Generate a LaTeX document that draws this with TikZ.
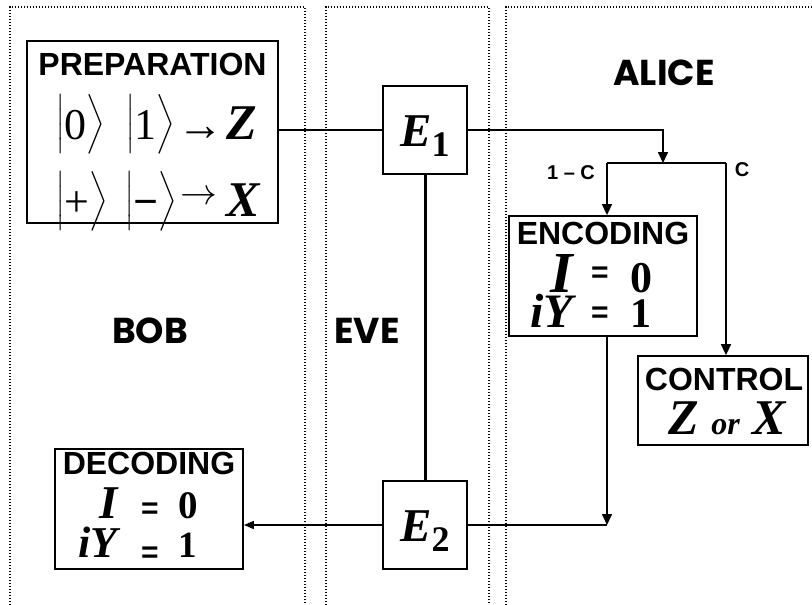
\RequirePackage{fix-cm}
\documentclass[tikz,border=0pt]{standalone}
\usepackage{amsmath}
\usepackage{graphicx}
\usepackage{fontspec}
\setmainfont{Liberation Serif}
\setsansfont{Liberation Sans}
\newfontfamily\comicfont{Poppins}
\usepackage{tikz}
\usetikzlibrary{calc}
\usetikzlibrary{arrows.meta}

\newcommand{\hd}{\sffamily\bfseries\fontsize{32}{32}\selectfont}
\newcommand{\bi}[1]{\rmfamily\bfseries\itshape\fontsize{#1}{#1}\selectfont}
\newcommand{\bn}[1]{\rmfamily\bfseries\upshape\fontsize{#1}{#1}\selectfont}
\newcommand{\eqs}{\sffamily\bfseries\fontsize{30}{30}\selectfont =}
\newcommand{\ketbox}[1]{{\fontsize{36}{36}\selectfont\raisebox{6pt}{$\Big|$}{\fontsize{44}{44}\selectfont #1}\raisebox{6pt}{$\Big\rangle$}}}

\tikzset{
  panel/.style={line width=1.3pt, dash pattern=on 1.3pt off 1.7pt},
  blk/.style={draw, line width=1.8pt, inner sep=0pt, fill=white},
  wire/.style={line width=1.6pt},
  arr/.style={line width=1.6pt, -{Triangle[length=11pt,width=10pt]}},
  arrsmall/.style={line width=1.6pt, -{Triangle[length=10pt,width=8pt]}},
  txt/.style={inner sep=0pt, anchor=base},
  part/.style={inner sep=0pt, anchor=base west},
  party/.style={inner sep=0pt, anchor=base, font=\comicfont\bfseries\fontsize{36}{36}\selectfont},
  small/.style={inner sep=0pt, anchor=base, font=\sffamily\bfseries\fontsize{20}{20}\selectfont}
}

\begin{document}
\begin{tikzpicture}[x=1pt,y=-1pt]
        \useasboundingbox (0,0) rectangle (812,605);
        %PANEL
        \draw[panel] (10,605) -- (10,7) -- (305,7) -- (305,605);
        \draw[panel] (326,605) -- (326,7) -- (489,7) -- (489,605);
        \draw[panel] (506,605) -- (506,7) -- (812,7);
        %KOORDINAT
        \coordinate (split) at (663,163);
        \coordinate (brL) at (607,163);
        \coordinate (brR) at (726,163);
        \coordinate (merge) at (607,525);
        %KOTAK
        \node[blk, minimum width=251pt, minimum height=182pt] (prep) at (152.5,132) {};
        \node[blk, minimum width=84pt, minimum height=88pt] (eone) at (425,130) {};
        \node[blk, minimum width=84pt, minimum height=88pt] (etwo) at (425,525) {};
        \node[blk, minimum width=188pt, minimum height=120pt] (enc) at (603,276) {};
        \node[blk, minimum width=170pt, minimum height=89pt] (ctrl) at (723,400.5) {};
        \node[blk, minimum width=188pt, minimum height=120pt] (dec) at (149,509) {};
        %PREPARATION
        \node[txt, font=\hd] (preptitle) at ($(prep.north)+(0,35)$) {PREPARATION};
        \node[part] (ketzero) at (56,139) {\ketbox{0}};
        \node[part] (ketone) at (126,139) {\ketbox{1}};
        \node[part] (zarrow) at (177,139) {\sffamily\bfseries\fontsize{42}{42}\selectfont\raisebox{-1pt}{\scalebox{1.1}{→}}};
        \node[part] (zbasis) at (226,139) {\bi{50}Z};
        \node[part] (ketplus) at (56,216) {\ketbox{+}};
        \node[part] (ketminus) at (125,216) {\ketbox{\bfseries −}};
        \node[part] (xarrow) at (180,216) {\fontsize{32}{32}\selectfont\raisebox{12pt}{\scalebox{1.15}{$\rightarrow$}}};
        \node[part] (xbasis) at (226,216) {\bi{50}X};
        %EVE
        \node[txt] (eonelbl) at ($(eone.center)+(0,16)$) {\bi{47}E\raisebox{-10pt}{\bn{36}1}};
        \node[txt] (etwolbl) at ($(etwo.center)+(0,16)$) {\bi{47}E\raisebox{-10pt}{\bn{36}2}};
        %ENCODING
        \node[txt, font=\hd] (enctitle) at ($(enc.north)+(0,29)$) {ENCODING};
        \node[txt, anchor=base east] (encI) at ($(enc.north)+(-30,77)$) {\bi{58}I};
        \node[txt] (enceqa) at ($(enc.north)+(-3,67)$) {\eqs};
        \node[txt, anchor=base west] (enczero) at ($(enc.north)+(27,77)$) {\bn{44}0};
        \node[txt, anchor=base east] (enciY) at ($(enc.north)+(-30,112)$) {\bi{48}iY};
        \node[txt] (enceqb) at ($(enc.north)+(-3,107)$) {\eqs};
        \node[txt, anchor=base west] (encone) at ($(enc.north)+(27,112)$) {\bn{42}1};
        %CONTROL
        \node[txt, font=\hd] (ctrltitle) at ($(ctrl.north)+(1,35)$) {CONTROL};
        \node[txt] (ctrlrow) at ($(ctrl.north)+(4,79)$) {\bi{50}Z\ {\fontsize{32}{32}\selectfont or}\ X};
        %DECODING
        \node[txt, font=\hd] (dectitle) at ($(dec.north)+(0,26)$) {DECODING};
        \node[txt, anchor=base east] (decI) at ($(dec.north)+(-31,70)$) {\bi{47}I};
        \node[txt] (deceqa) at ($(dec.north)+(1,70)$) {\eqs};
        \node[txt, anchor=base west] (deczero) at ($(dec.north)+(29,70)$) {\bn{39}0};
        \node[txt, anchor=base east] (deciY) at ($(dec.north)+(-31,109)$) {\bi{44}iY};
        \node[txt] (deceqb) at ($(dec.north)+(1,114)$) {\eqs};
        \node[txt, anchor=base west] (decone) at ($(dec.north)+(29,109)$) {\bn{37}1};
        %NAMA
        \node[party] (alice) at (664,85) {ALICE};
        \node[party] (bob) at (150,343) {BOB};
        \node[party] (eve) at (367,343) {EVE};
        \node[small] (oneminus) at (571,179) {1 – C};
        \node[small] (clbl) at (742,176) {C};
        %GARIS
        \draw[wire] (prep.east |- eone.west) -- (eone.west);
        \draw[arr] (eone.east) -| (split);
        \draw[wire] (brL) -- (brR);
        \draw[arr] (brL) -- (brL |- enc.north);
        \draw[arr] (brR) -- (brR |- ctrl.north);
        \draw[line width=3pt] (eone.south) -- (etwo.north);
        \draw[arr] (merge |- enc.south) -- (merge);
        \draw[wire] (etwo.east) -- (merge);
        \draw[arrsmall] (etwo.west) -- (etwo.west -| dec.east);
\end{tikzpicture}
\end{document}
